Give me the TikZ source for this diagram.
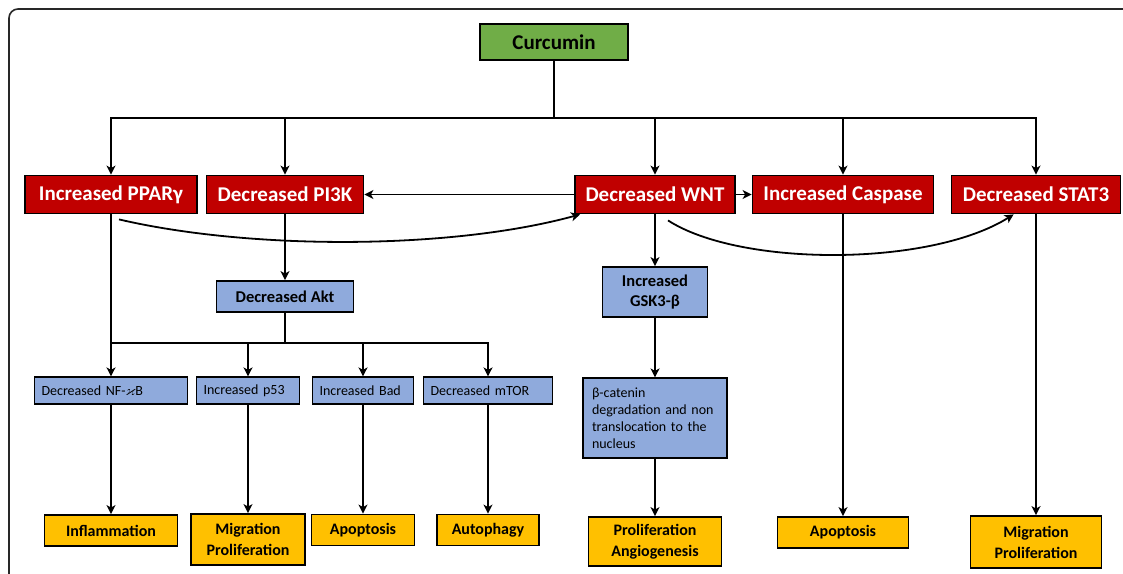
\documentclass[tikz,border=0pt]{standalone}
\usepackage{amssymb}
\usepackage{fontspec}
\setmainfont{Carlito}
\usetikzlibrary{arrows.meta,calc}
\definecolor{curGreen}{RGB}{112,173,71}
\definecolor{boxRed}{RGB}{192,0,0}
\definecolor{boxBlue}{RGB}{143,170,220}
\definecolor{boxOrange}{RGB}{255,192,0}
\definecolor{frameGray}{RGB}{40,40,40}

\begin{document}
\begin{tikzpicture}[x=1pt, y=-1pt, line width=1.8pt, >={Stealth[length=9pt,width=9pt,inset=2.5pt]}]
		\useasboundingbox (0,0) rectangle (1123,573);
		
		% Frame
		\draw [frameGray, line width=1.6pt, rounded corners=9pt] (9,580) -- (9,9) -- (1130,9);
		
		% Root
		\node (cur) at (554,42) [draw, fill=curGreen, inner sep=0pt, minimum width=148pt, minimum height=36pt, font=\fontsize{21}{24}\selectfont\bfseries] {Curcumin};
		
		% First level
		\begin{scope}[every node/.style={draw, fill=boxRed, text=white, inner sep=0pt, minimum height=38pt, font=\fontsize{21}{24}\selectfont\bfseries}]
			\node (ppar) at (111,194.5) [minimum width=172pt] {Increased PPARγ};
			\node (pik) at (285,194.5) [minimum width=157pt] {Decreased PI3K};
			\node (wnt) at (655,194.5) [minimum width=160pt] {Decreased WNT};
			\node (casp) at (843,194.5) [minimum width=181pt] {Increased Caspase};
			\node (stat) at (1036,194.5) [minimum width=169pt] {Decreased STAT3};
		\end{scope}
		
		% Second level
		\begin{scope}[every node/.style={draw, fill=boxBlue, inner sep=0pt, align=center, font=\fontsize{16.5}{20}\selectfont\bfseries}]
			\node (akt) at (285,296.5) [minimum width=137pt, minimum height=31pt] {Decreased Akt};
			\node (gsk) at (655,292) [minimum width=105pt, minimum height=50pt] {Increased\\GSK3-β};
		\end{scope}
		
		% Third level
		\begin{scope}[every node/.style={draw, line width=1.2pt, fill=boxBlue, inner xsep=7pt, inner ysep=0pt, align=left, font=\fontsize{14}{17}\selectfont}]
			\node (nfkb) at (111,390.5) [text width=139pt, minimum height=27pt] {Decreased NF-$\varkappa$B};
			\node (p53) at (248,390.5) [text width=89pt, minimum height=27pt] {Increased p53};
			\node (bad) at (363,390.5) [text width=87pt, minimum height=27pt] {Increased Bad};
			\node (mtor) at (488,390.5) [text width=115pt, minimum height=27pt] {Decreased mTOR};
			\node (bcat) at (655,418) [inner xsep=9pt, text width=126pt, minimum height=80pt] {β-catenin\\degradation and non\\translocation to the\\nucleus};
		\end{scope}
		
		% Outcomes
		\begin{scope}[every node/.style={draw, fill=boxOrange, inner sep=0pt, align=center, font=\fontsize{16}{21}\selectfont\bfseries}]
			\node (infl) at (111,530.5) [minimum width=133pt, minimum height=31pt] {Inflammation};
			\node (migr) at (248,539.5) [minimum width=114pt, minimum height=51pt] {Migration\\Proliferation};
			\node (apop) at (363,530) [minimum width=103pt, minimum height=31pt] {Apoptosis};
			\node (auto) at (488,530) [minimum width=102pt, minimum height=31pt] {Autophagy};
			\node (prang) at (655,541.5) [minimum width=133pt, minimum height=49pt] {Proliferation\\Angiogenesis};
			\node (apopb) at (843,532.5) [minimum width=131pt, minimum height=31pt] {Apoptosis};
			\node (migrb) at (1036,542) [minimum width=131pt, minimum height=52pt] {Migration\\Proliferation};
		\end{scope}
		
		% Branches
		\coordinate (topbar) at (554,118);
		\coordinate (aktbar) at (285,343);
		\draw (cur.south) -- (topbar);
		\draw [->] (topbar) -| (ppar.north);
		\draw [->] (topbar) -| (pik.north);
		\draw [->] (topbar) -| (wnt.north);
		\draw [->] (topbar) -| (casp.north);
		\draw [->] (topbar) -| (stat.north);
		\draw (akt.south) -- (aktbar) -- (aktbar -| nfkb.north);
		\draw [->] (aktbar) -| (p53.north);
		\draw [->] (aktbar) -| (bad.north);
		\draw [->] (aktbar) -| (mtor.north);
		
		% Arrows
		\begin{scope}[every edge/.style={draw}]
			\path [->] (ppar) edge (nfkb);
			\path [->] (pik) edge (akt);
			\path [->] (wnt) edge (pik);
			\path [->] (wnt) edge (casp);
			\path [->] (wnt) edge (gsk);
			\path [->] (gsk) edge (bcat);
			\path [->] (bcat) edge (prang);
			\path [->] (casp) edge (apopb);
			\path [->] (stat) edge (migrb);
			\path [->] (nfkb) edge (infl);
			\path [->] (p53) edge (migr);
			\path [->] (bad) edge (apop);
			\path [->] (mtor) edge (auto);
		\end{scope}
		
		% Curved arrows
		\draw [->] ($(ppar.south)+(8,5)$) .. controls (250,250) and (450,250) .. ($(wnt.south west)+(6,0)$);
		\draw [->] ($(wnt.south)+(13,6)$) .. controls (740,267) and (930,267) .. ($(stat.south west)+(63,0)$);
		
	\end{tikzpicture}
\end{document}
